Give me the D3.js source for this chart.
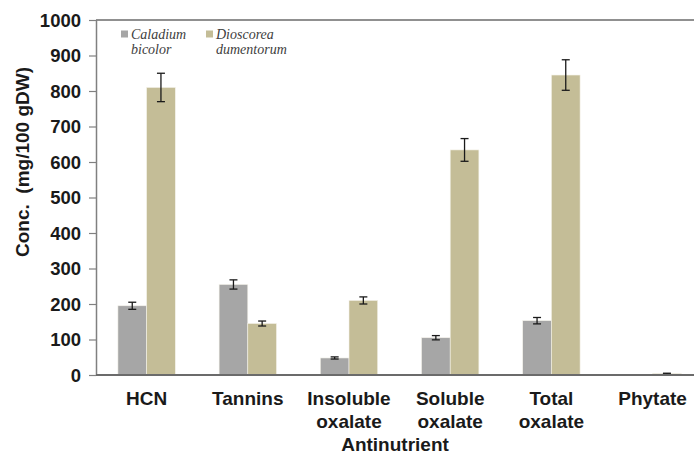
<!DOCTYPE html>
<html><head><meta charset="utf-8">
<script src="https://cdn.jsdelivr.net/npm/d3@7"></script>
<style>body{margin:0;background:#fff}svg{display:block}</style>
</head><body>
<script>
const categories = [["HCN"],["Tannins"],["Insoluble","oxalate"],["Soluble","oxalate"],["Total","oxalate"],["Phytate"]];
const seriesNames = ["Caladium bicolor","Dioscorea dumentorum"];
const caladium = [195, 255, 48, 105, 153, 0];
const caladiumErr = [10, 13, 3, 6, 9, 0];
const dioscorea = [810, 145, 210, 634, 845, 4];
const dioscoreaErr = [40, 7, 10, 32, 43, 1];
const yTicks = [0,100,200,300,400,500,600,700,800,900,1000];
const colors = ["#a6a6a6","#c4bd97"];

(function(){
const W=694,H=457;
const svg=d3.select("body").append("svg").attr("width",W).attr("height",H);
const mLeft=96, mTop=20, mBottom=375;
const x0=d3.scaleBand().domain(d3.range(categories.length)).range([mLeft, mLeft+6*101.2]).paddingInner(0.433).paddingOuter(0.2165);
const x1=d3.scaleBand().domain([0,1]).range([0,x0.bandwidth()]);
const y=d3.scaleLinear().domain([0,1000]).range([mBottom,mTop]);

const data=categories.map((c,i)=>[
  {s:0,v:caladium[i],e:caladiumErr[i]},
  {s:1,v:dioscorea[i],e:dioscoreaErr[i]}]);

const g=svg.selectAll("g.grp").data(data).enter().append("g").attr("transform",(d,i)=>`translate(${x0(i)},0)`);
g.selectAll("rect").data(d=>d).enter().append("rect")
  .attr("x",d=>x1(d.s)).attr("width",x1.bandwidth())
  .attr("y",d=>y(d.v)).attr("height",d=>mBottom-y(d.v))
  .attr("fill",d=>colors[d.s]).attr("stroke","#f4f2ea").attr("stroke-width",0.6);
const eb=g.selectAll("g.eb").data(d=>d.filter(e=>e.v>0)).enter().append("g").attr("stroke","#1a1a1a").attr("stroke-width",1.3);
eb.append("line").attr("x1",d=>x1(d.s)+x1.bandwidth()/2).attr("x2",d=>x1(d.s)+x1.bandwidth()/2)
  .attr("y1",d=>y(d.v+d.e)).attr("y2",d=>y(d.v-d.e));
[1,-1].forEach(sg=>{
  eb.append("line").attr("x1",d=>x1(d.s)+x1.bandwidth()/2-4).attr("x2",d=>x1(d.s)+x1.bandwidth()/2+4)
    .attr("y1",d=>y(d.v+sg*d.e)).attr("y2",d=>y(d.v+sg*d.e));
});

const yAxis=svg.append("g").attr("transform",`translate(${mLeft},0)`)
  .call(d3.axisLeft(y).tickValues(yTicks).tickFormat(d3.format("d")).tickSize(7).tickSizeOuter(0));
yAxis.select(".domain").attr("stroke","#808080").attr("stroke-width",1.5);
yAxis.selectAll(".tick line").attr("stroke","#808080").attr("stroke-width",1.2);
yAxis.selectAll(".tick text").attr("x",-15).attr("dy","0.35em")
  .attr("font-family","Liberation Sans, Arial, sans-serif").attr("font-weight","bold").attr("font-size",18.5).attr("fill","#1a1a1a");
svg.append("line").attr("x1",mLeft).attr("x2",W).attr("y1",mTop).attr("y2",mTop).attr("stroke","#6b6b6b").attr("stroke-width",1.5);
svg.append("line").attr("x1",mLeft).attr("x2",W).attr("y1",mBottom).attr("y2",mBottom).attr("stroke","#6b6b6b").attr("stroke-width",2);

const xl=svg.append("g").attr("font-family","Liberation Sans, Arial, sans-serif").attr("font-weight","bold").attr("font-size",19).attr("fill","#1a1a1a").attr("text-anchor","middle");
categories.forEach((c,i)=>{
  const t=xl.append("text").attr("x",x0(i)+x0.bandwidth()/2).attr("y",405);
  c.forEach((ln,j)=>t.append("tspan").attr("x",x0(i)+x0.bandwidth()/2).attr("dy",j?23:0).text(ln));
});
svg.append("text").attr("x",395).attr("y",451).attr("text-anchor","middle")
  .attr("font-family","Liberation Sans, Arial, sans-serif").attr("font-weight","bold").attr("font-size",19).attr("fill","#1a1a1a").text("Antinutrient");
svg.append("text").attr("transform","translate(29,162) rotate(-90)").attr("text-anchor","middle")
  .attr("font-family","Liberation Sans, Arial, sans-serif").attr("font-weight","bold").attr("font-size",19).attr("fill","#1a1a1a")
  .attr("xml:space","preserve").text("Conc.  (mg/100 gDW)");

const lx=[121,206];
seriesNames.forEach((n,i)=>{
  svg.append("rect").attr("x",lx[i]).attr("y",30.5).attr("width",7).attr("height",7).attr("fill",colors[i]);
  const parts=n.split(" ");
  const t=svg.append("text").attr("font-family","Liberation Serif, Times New Roman, serif").attr("font-style","italic").attr("font-size",14).attr("fill","#404040");
  parts.forEach((p,j)=>t.append("tspan").attr("x",lx[i]+10).attr("y",39+j*15).text(p));
});
})();
</script>
</body></html>
